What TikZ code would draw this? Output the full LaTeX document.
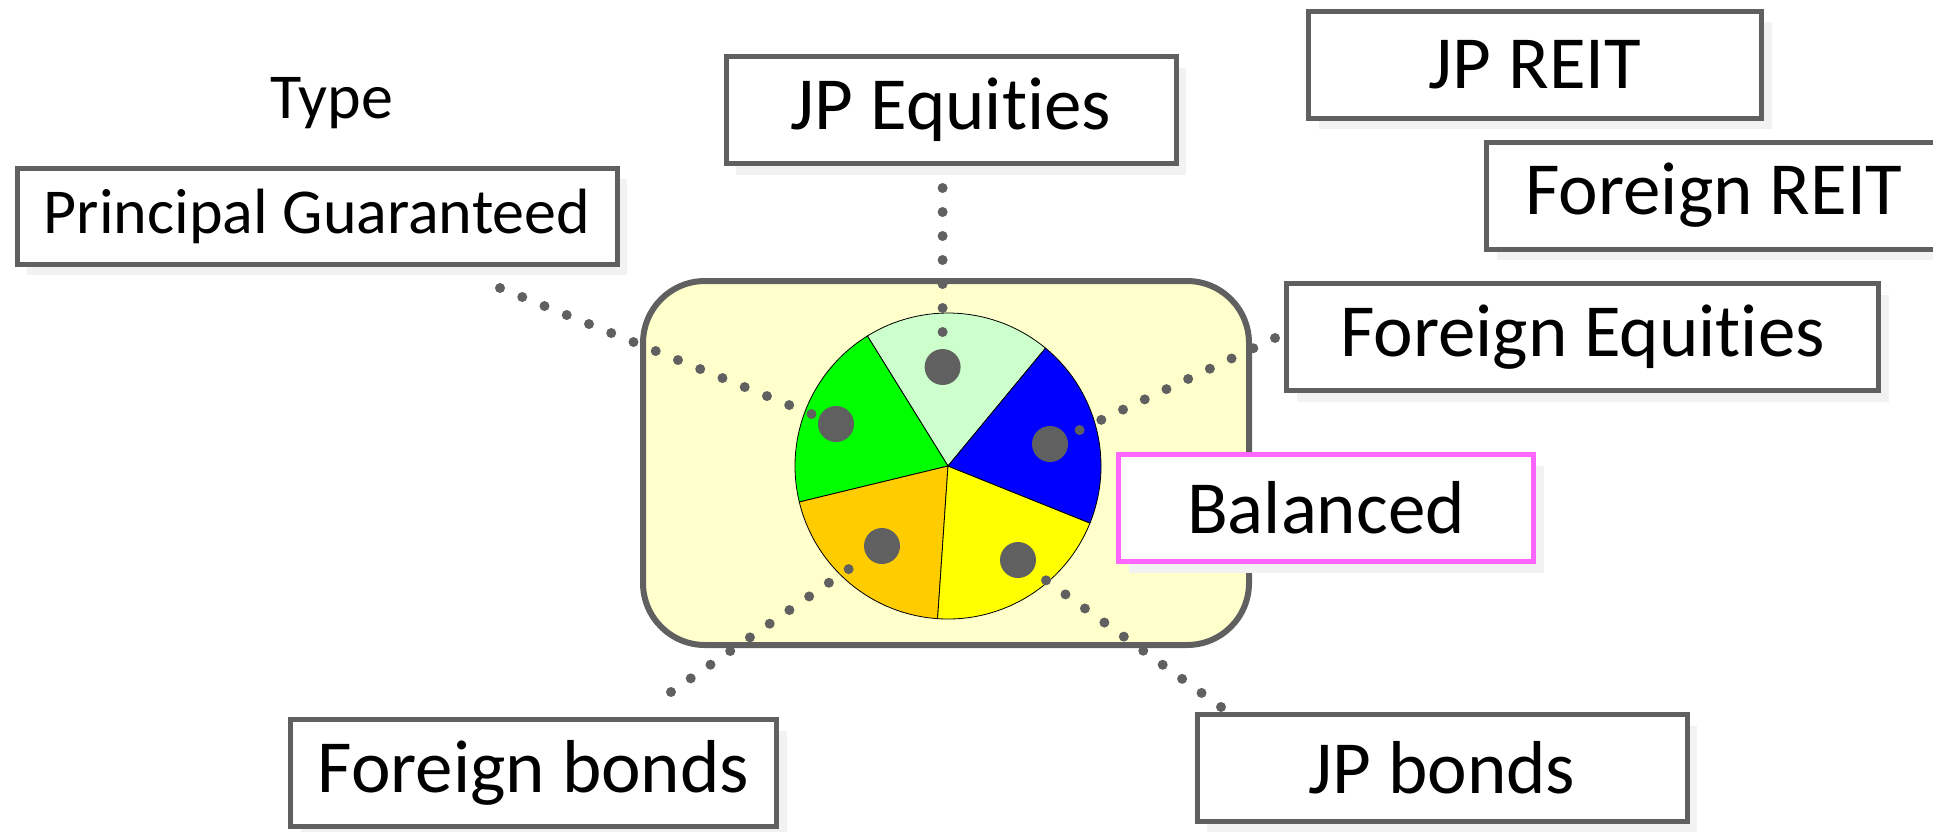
\documentclass[tikz,border=0pt]{standalone}
\usepackage{fontspec}
\setmainfont{Carlito}[RawFeature={-liga}]
\usepackage{xcolor}
\usepackage{tikz}
\usetikzlibrary{shadows}

\definecolor{linegray}{RGB}{96,96,96}
\definecolor{frameyellow}{RGB}{255,255,204}
\definecolor{ltgreen}{RGB}{204,255,204}
\definecolor{fullgreen}{RGB}{0,255,0}
\definecolor{pieorange}{RGB}{255,204,0}
\definecolor{pieyellow}{RGB}{255,255,0}
\definecolor{pieblue}{RGB}{0,0,255}
\definecolor{pinkline}{RGB}{255,102,255}

\begin{document}
\begin{tikzpicture}[
  x=1pt, y=1pt,
  box/.style={rectangle, draw=linegray, line width=5pt, fill=white,
    inner sep=0pt, minimum height=107pt, align=center,
    font=\fontsize{75}{82}\selectfont,
    drop shadow={shadow xshift=10pt, shadow yshift=-11pt, fill=black!5, opacity=1}},
  smallbox/.style={box, minimum height=96pt, font=\fontsize{64}{72}\selectfont},
  blob/.style={circle, fill=linegray, inner sep=0pt, minimum size=36pt},
  dotline/.style={draw=linegray, line width=10pt, line cap=round,
    dash pattern=on 0pt off 24pt}
]
\useasboundingbox (0,0) rectangle (1933,-831);

% frame and pie
\node[rectangle, rounded corners=62pt, draw=linegray, line width=6pt,
  fill=frameyellow, minimum width=606pt, minimum height=364pt] (frame) at (946,-463) {};
\node[circle, inner sep=0pt, minimum size=306pt] (pie) at (948,-466) {};
\foreach \a/\b/\c in {50.4/121.8/ltgreen, 121.8/193.6/fullgreen,
  193.6/266.1/pieorange, 266.1/338.1/pieyellow, -21.9/50.4/pieblue}
  \filldraw[fill=\c, draw=black, line width=0.8pt] (pie.center) -- ++(\a:153pt)
    arc[start angle=\a, end angle=\b, radius=153pt] -- cycle;

\node[blob] (dLG) at (942.6,-367) {};
\node[blob] (dG) at (836,-424) {};
\node[blob] (dB) at (1050,-444) {};
\node[blob] (dO) at (882,-546) {};
\node[blob] (dY) at (1018,-560) {};

% labels
\node[font=\fontsize{64}{72}\selectfont] (T) at (332,-103) {Type};
\node[smallbox, minimum width=600pt] (PG) at (317,-216) {Principal Guaranteed};
\node[box, minimum width=450pt] (EQ) at (951,-110) {JP Equities};
\node[box, minimum width=453pt] (RE) at (1535,-64.5) {JP REIT};
\node[box, minimum width=455pt] (FR) at (1714,-195.5) {Foreign REIT};
\node[box, minimum width=592pt] (FE) at (1582.5,-337) {Foreign Equities};
\node[box, draw=pinkline, minimum width=415pt] (BA) at (1326,-508) {Balanced};
\node[box, minimum width=486pt] (FB) at (533.5,-773) {Foreign bonds};
\node[box, minimum width=490pt] (JB) at (1442,-768) {JP bonds};

% dotted leaders
\coordinate (pgS) at (500,-288);
\coordinate (eqS) at (942.6,-188);
\coordinate (feS) at (1275,-338);
\coordinate (fbS) at (671,-692);
\coordinate (jbS) at (1221,-707);
\draw[dotline] (pgS) -- (dG);
\draw[dotline, shorten >=15pt] (eqS) -- (dLG);
\draw[dotline, shorten >=12pt] (feS) -- (dB);
\draw[dotline] (fbS) -- (dO);
\draw[dotline, shorten >=12pt] (jbS) -- (dY);
\end{tikzpicture}
\end{document}
